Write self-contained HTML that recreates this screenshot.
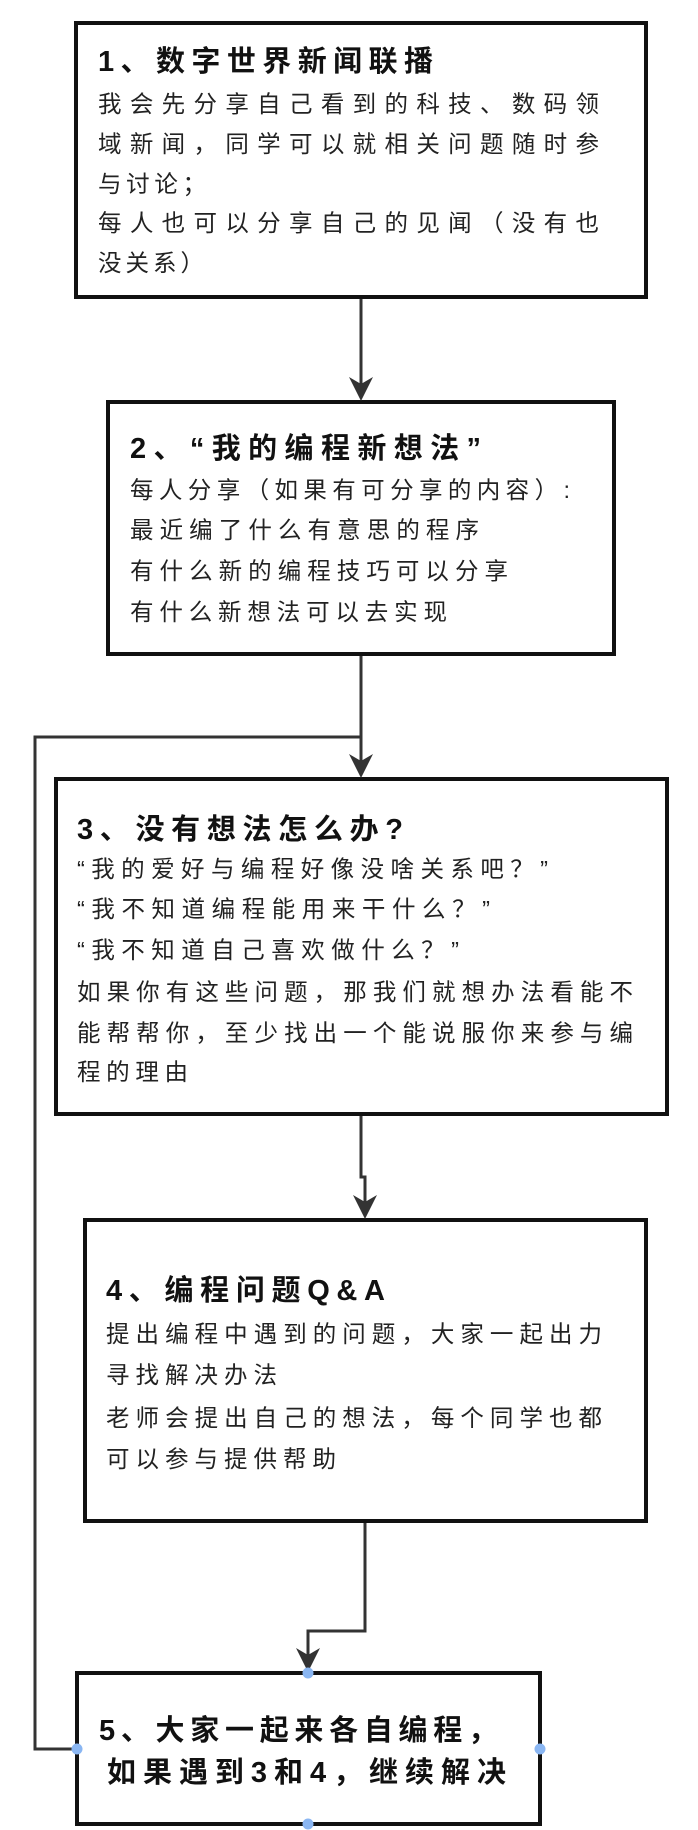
<!DOCTYPE html>
<html><head><meta charset="utf-8"><style>
html,body{margin:0;padding:0;background:#fff;}
svg{display:block;}
text{font-family:"Liberation Sans","Noto Sans CJK SC",sans-serif;fill:#111;}
.t{font-size:29px;font-weight:bold;}
.b{font-size:23.5px;fill:#222;}
</style></head><body>
<svg width="698" height="1830" viewBox="0 0 698 1830" xmlns="http://www.w3.org/2000/svg">
<g fill="none" stroke="#111" stroke-width="4">
<rect x="76" y="23" width="570" height="274"/>
<rect x="108" y="402" width="506" height="252"/>
<rect x="56" y="779" width="611" height="335"/>
<rect x="85" y="1220" width="561" height="301"/>
<rect x="77" y="1673" width="463" height="151"/>
</g>
<g fill="none" stroke="#333" stroke-width="3">
<polyline points="361,299 361,392"/>
<polyline points="361,656 361,770"/>
<polyline points="361,737 35,737 35,1749 76,1749"/>
<polyline points="361,1116 361,1177 365,1177 365,1212"/>
<polyline points="365,1523 365,1631 308,1631 308,1665"/>
</g>
<g fill="#333">
<path d="M361,401 L349,377 L361,384 L373,377 Z"/>
<path d="M361,778 L349,754 L361,761 L373,754 Z"/>
<path d="M365,1219 L353,1195 L365,1202 L377,1195 Z"/>
<path d="M308,1672 L296,1648 L308,1655 L320,1648 Z"/>
</g>
<g fill="#8ab6f2">
<circle cx="308" cy="1673" r="5.5"/>
<circle cx="77" cy="1749" r="5.5"/>
<circle cx="540" cy="1749" r="5.5"/>
<circle cx="308" cy="1824" r="5.5"/>
</g>
<text class="t" x="98" y="71" textLength="335" lengthAdjust="spacing">1、数字世界新闻联播</text>
<text class="b" x="98" y="112" textLength="501" lengthAdjust="spacing">我会先分享自己看到的科技、数码领</text>
<text class="b" x="98" y="152" textLength="501" lengthAdjust="spacing">域新闻，同学可以就相关问题随时参</text>
<text class="b" x="98" y="192" textLength="108" lengthAdjust="spacing">与讨论；</text>
<text class="b" x="98" y="231" textLength="501" lengthAdjust="spacing">每人也可以分享自己的见闻（没有也</text>
<text class="b" x="98" y="271" textLength="106" lengthAdjust="spacing">没关系）</text>

<text class="t" x="130" y="458" textLength="351" lengthAdjust="spacing">2、“我的编程新想法”</text>
<text class="b" x="130" y="498" textLength="440" lengthAdjust="spacing">每人分享（如果有可分享的内容）:</text>
<text class="b" x="130" y="538" textLength="349" lengthAdjust="spacing">最近编了什么有意思的程序</text>
<text class="b" x="130" y="579" textLength="378" lengthAdjust="spacing">有什么新的编程技巧可以分享</text>
<text class="b" x="130" y="620" textLength="317" lengthAdjust="spacing">有什么新想法可以去实现</text>

<text class="t" x="77" y="839" textLength="326" lengthAdjust="spacing">3、没有想法怎么办?</text>
<text class="b" x="77" y="877" textLength="471" lengthAdjust="spacing">“我的爱好与编程好像没啥关系吧？”</text>
<text class="b" x="77" y="917" textLength="413" lengthAdjust="spacing">“我不知道编程能用来干什么？”</text>
<text class="b" x="77" y="958" textLength="382" lengthAdjust="spacing">“我不知道自己喜欢做什么？”</text>
<text class="b" x="77" y="1000" textLength="556" lengthAdjust="spacing">如果你有这些问题，那我们就想办法看能不</text>
<text class="b" x="77" y="1041" textLength="556" lengthAdjust="spacing">能帮帮你，至少找出一个能说服你来参与编</text>
<text class="b" x="77" y="1080" textLength="111" lengthAdjust="spacing">程的理由</text>

<text class="t" x="106" y="1300" textLength="279" lengthAdjust="spacing">4、编程问题Q&amp;A</text>
<text class="b" x="106" y="1342" textLength="496" lengthAdjust="spacing">提出编程中遇到的问题，大家一起出力</text>
<text class="b" x="106" y="1383" textLength="171" lengthAdjust="spacing">寻找解决办法</text>
<text class="b" x="106" y="1426" textLength="496" lengthAdjust="spacing">老师会提出自己的想法，每个同学也都</text>
<text class="b" x="106" y="1467" textLength="230" lengthAdjust="spacing">可以参与提供帮助</text>

<text class="t" x="99" y="1740" textLength="398" lengthAdjust="spacing">5、大家一起来各自编程，</text>
<text class="t" x="107" y="1782" textLength="399" lengthAdjust="spacing">如果遇到3和4，继续解决</text>
</svg>
</body></html>
